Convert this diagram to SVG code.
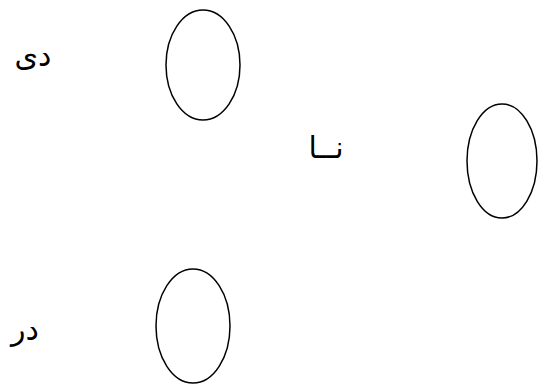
<svg xmlns="http://www.w3.org/2000/svg" width="538" height="387" viewBox="0 0 538 387">
<style>
.n{fill:none;stroke:#000;stroke-width:1.5}
.t{font-family:"Liberation Sans","DejaVu Sans",sans-serif;font-size:30px;fill:#000;text-anchor:middle}
</style>
<rect width="538" height="387" fill="#fff"/>
<g id="node1"><ellipse class="n" cx="203" cy="65" rx="37" ry="55"/></g>
<g id="node2"><ellipse class="n" cx="502" cy="161" rx="35" ry="57"/></g>
<g id="node3"><ellipse class="n" cx="193" cy="326" rx="37" ry="57"/></g>
<g id="labels">
<text class="t" x="33" y="66">دی</text>
<text class="t" x="326" y="158">نــا</text>
<text class="t" x="25" y="340">در</text>
</g>
<g id="connectors"></g>
</svg>
